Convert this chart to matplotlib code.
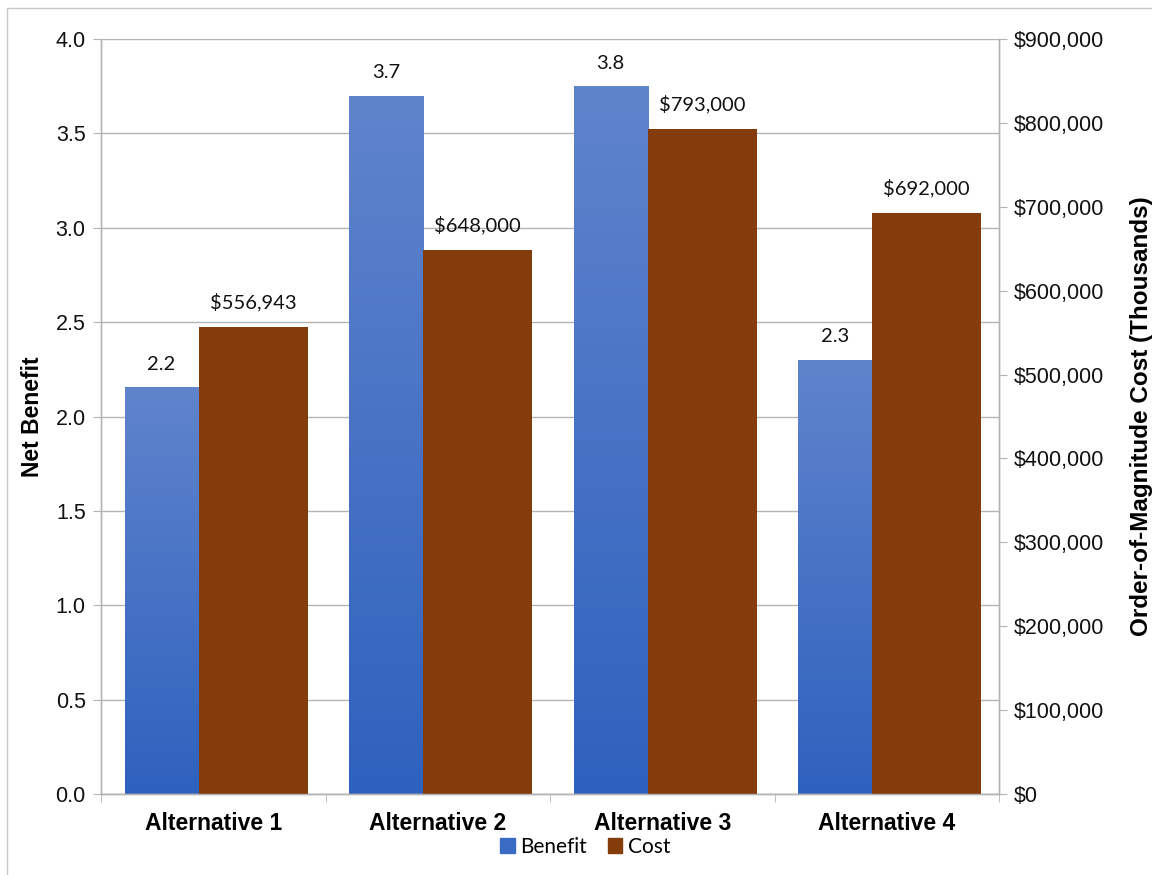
import matplotlib
matplotlib.use("Agg")
import matplotlib.pyplot as plt
import numpy as np
from matplotlib.colors import LinearSegmentedColormap
from matplotlib.patches import Rectangle
from matplotlib.ticker import FuncFormatter, MultipleLocator

categories = ["Alternative 1", "Alternative 2", "Alternative 3", "Alternative 4"]
benefit = [2.155, 3.70, 3.75, 2.30]
cost = [556943, 648000, 793000, 692000]

W, H, DPI = 1152, 875, 100
fig = plt.figure(figsize=(W / DPI, H / DPI), dpi=DPI)

# outer chart border
fig.patches.append(Rectangle((7 / W, -0.05), 1.1, 1 - 8 / H + 0.05, transform=fig.transFigure,
                             fill=False, edgecolor="#C9C9C9", linewidth=1.0))

ax = fig.add_axes([101 / W, 1 - 794 / H, (999 - 101) / W, (794 - 39) / H])
ax2 = ax.twinx()

grid_c = "#B4B4B4"
x = np.arange(len(categories))
blue_off, blue_w = -0.230, 0.330
brown_off, brown_w = 0.178, 0.486

cmap = LinearSegmentedColormap.from_list("g", ["#2E61BE", "#6084CC"])
grad = np.linspace(0, 1, 256).reshape(-1, 1)

bars = ax.bar(x + blue_off, benefit, width=blue_w, color="none", edgecolor="none", zorder=2)
for b in bars:
    x0, w, h = b.get_x(), b.get_width(), b.get_height()
    im = ax.imshow(grad, cmap=cmap, origin="lower", extent=[x0, x0 + w, 0, h],
                   aspect="auto", zorder=2, interpolation="bilinear")
    im.set_clip_path(b)

ax2.bar(x + brown_off, cost, width=brown_w, color="#843C0C", edgecolor="none", zorder=2)

ax.set_xlim(-0.5, 3.5)
ax.set_ylim(0, 4.0)
ax2.set_ylim(0, 900000)
ax.yaxis.set_major_locator(MultipleLocator(0.5))
ax2.yaxis.set_major_locator(MultipleLocator(100000))
ax.yaxis.set_major_formatter(FuncFormatter(lambda v, p: f"{v:.1f}"))
ax2.yaxis.set_major_formatter(FuncFormatter(lambda v, p: f"${v:,.0f}"))

ax.set_axisbelow(True)
ax.grid(axis="y", color=grid_c, linewidth=1.0)
for a in (ax, ax2):
    for s in a.spines.values():
        s.set_color(grid_c)
        s.set_linewidth(1.0)
    a.spines["top"].set_visible(False)

ax.set_xticks(x)
ax.set_xticklabels(categories, fontfamily="Liberation Sans", fontweight="bold", fontsize=16.5)
ax.set_xticks(np.arange(-0.5, 4.0, 1.0), minor=True)
ax.tick_params(axis="x", which="major", length=0, pad=13)
ax.tick_params(axis="x", which="minor", length=6, color=grid_c, direction="out")
ax.tick_params(axis="y", length=6, color=grid_c, pad=5)
ax2.tick_params(axis="y", length=6, color=grid_c, pad=5)
for lab in ax.get_yticklabels() + ax2.get_yticklabels():
    lab.set_fontfamily("Liberation Sans")
    lab.set_fontsize(15.5)
    lab.set_color("#111111")

ax.set_ylabel("Net Benefit", fontfamily="Liberation Sans", fontweight="bold", fontsize=16.5, labelpad=8)
ax2.set_ylabel("Order-of-Magnitude Cost (Thousands)", fontfamily="Liberation Sans",
               fontweight="bold", fontsize=17.5, labelpad=18)

lab_font = dict(family="Lato", size=14.5, color="#111111")
for xi, v in zip(x, benefit):
    ax.annotate(f"{v:.1f}", (xi + blue_off, v), xytext=(0, 16.5), textcoords="offset points",
                ha="center", va="center", **lab_font)
for xi, v in zip(x, cost):
    ax2.annotate(f"${v:,.0f}", (xi + brown_off, v), xytext=(0, 18), textcoords="offset points",
                 ha="center", va="center", **lab_font)

handles = [Rectangle((0, 0), 1, 1, color="#3A6BC4"), Rectangle((0, 0), 1, 1, color="#843C0C")]
fig.legend(handles, ["Benefit", "Cost"], loc="center", bbox_to_anchor=(0.508, 1 - 847 / H),
           ncol=2, frameon=False, prop=dict(family="Lato", size=15),
           handlelength=0.7, handleheight=0.7, handletextpad=0.25, columnspacing=1.0)

fig.savefig("out.png", dpi=DPI)
